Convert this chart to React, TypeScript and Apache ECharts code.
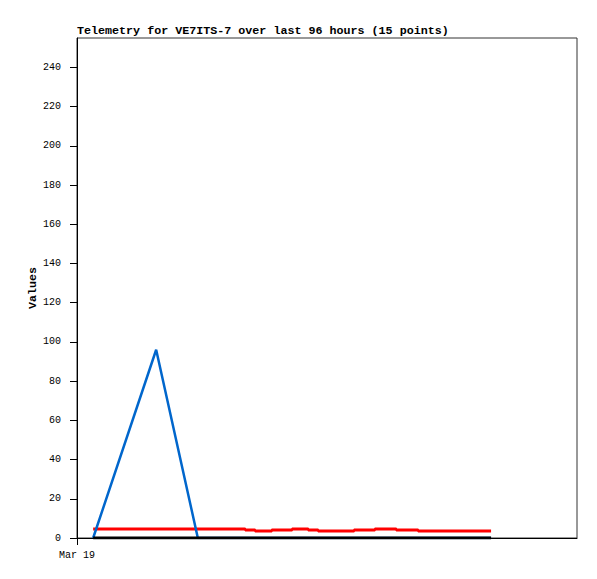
import React, { useEffect, useRef } from "react";
import * as echarts from "echarts";

// hours since Mar 19 00:00
const hours = [3.1, 15.2, 23.2, 32.3, 34.2, 37.4, 41.3, 44.4, 46.3, 49.7, 53.2, 57.2, 61.3, 65.5, 79.5];
const redValues = [4.6, 4.6, 4.6, 4.1, 3.6, 4.1, 4.6, 4.1, 3.6, 3.6, 4.1, 4.6, 4.1, 3.6, 3.6];
const blueValues = [0, 96, 0, 0, 0, 0, 0, 0, 0, 0, 0, 0, 0, 0, 0];
const blackValues = [0, 0, 0, 0, 0, 0, 0, 0, 0, 0, 0, 0, 0, 0, 0];
const xLabel = "Mar 19";
const titleText = "Telemetry for VE7ITS-7 over last 96 hours (15 points)";

const MONO = "'Liberation Mono', 'DejaVu Sans Mono', monospace";

export default function App() {
  const ref = useRef<HTMLDivElement>(null);
  useEffect(() => {
    if (!ref.current) return;
    const chart = echarts.init(ref.current, null, { renderer: "svg" });
    const pairs = (vals: number[]) => hours.map((h, i) => [h, vals[i]]);
    chart.setOption({
      animation: false,
      backgroundColor: "#fff",
      title: {
        text: titleText,
        left: 77,
        top: 25,
        padding: 0,
        textStyle: { fontFamily: MONO, fontWeight: "bold", fontSize: 11.7, color: "#000" },
      },
      grid: {
        left: 77,
        top: 38,
        width: 500,
        height: 500,
        show: true,
        borderColor: "#333",
        borderWidth: 1,
        containLabel: false,
      },
      xAxis: {
        type: "value",
        min: 0,
        max: 96,
        splitLine: { show: false },
        axisLine: { show: true, lineStyle: { color: "#000", width: 1 } },
        axisTick: { show: true, length: 7, customValues: [0], lineStyle: { color: "#000" } },
        axisLabel: {
          show: true,
          customValues: [0],
          formatter: () => xLabel,
          margin: 12,
          fontFamily: MONO,
          fontSize: 10,
          color: "#000",
        },
      },
      yAxis: {
        type: "value",
        min: 0,
        max: 255,
        interval: 20,
        name: "Values",
        nameLocation: "middle",
        nameGap: 38,
        nameMoveOverlap: false,
        nameTextStyle: { fontFamily: MONO, fontWeight: "bold", fontSize: 11.7, color: "#000" },
        splitLine: { show: false },
        axisLine: { show: true, lineStyle: { color: "#000", width: 1 } },
        axisTick: { show: true, length: 7, lineStyle: { color: "#000" } },
        axisLabel: {
          showMaxLabel: false,
          margin: 16,
          fontFamily: MONO,
          fontSize: 10,
          color: "#000",
          formatter: (v: number) => (v % 20 === 0 ? String(v) : ""),
        },
      },
      series: [
        {
          type: "line",
          data: pairs(redValues),
          step: "end",
          symbol: "none",
          lineStyle: { color: "#ff0000", width: 3 },
          z: 2,
        },
        {
          type: "line",
          data: pairs(blueValues),
          symbol: "none",
          lineStyle: { color: "#0066cc", width: 2.5 },
          z: 3,
        },
        {
          type: "line",
          data: pairs(blackValues),
          symbol: "none",
          lineStyle: { color: "#000000", width: 3 },
          z: 4,
        },
      ],
    });
    return () => chart.dispose();
  }, []);
  return (
    <div
      ref={ref}
      style={{ position: "absolute", left: 0, top: 0, width: 597, height: 579, background: "#fff" }}
    />
  );
}
